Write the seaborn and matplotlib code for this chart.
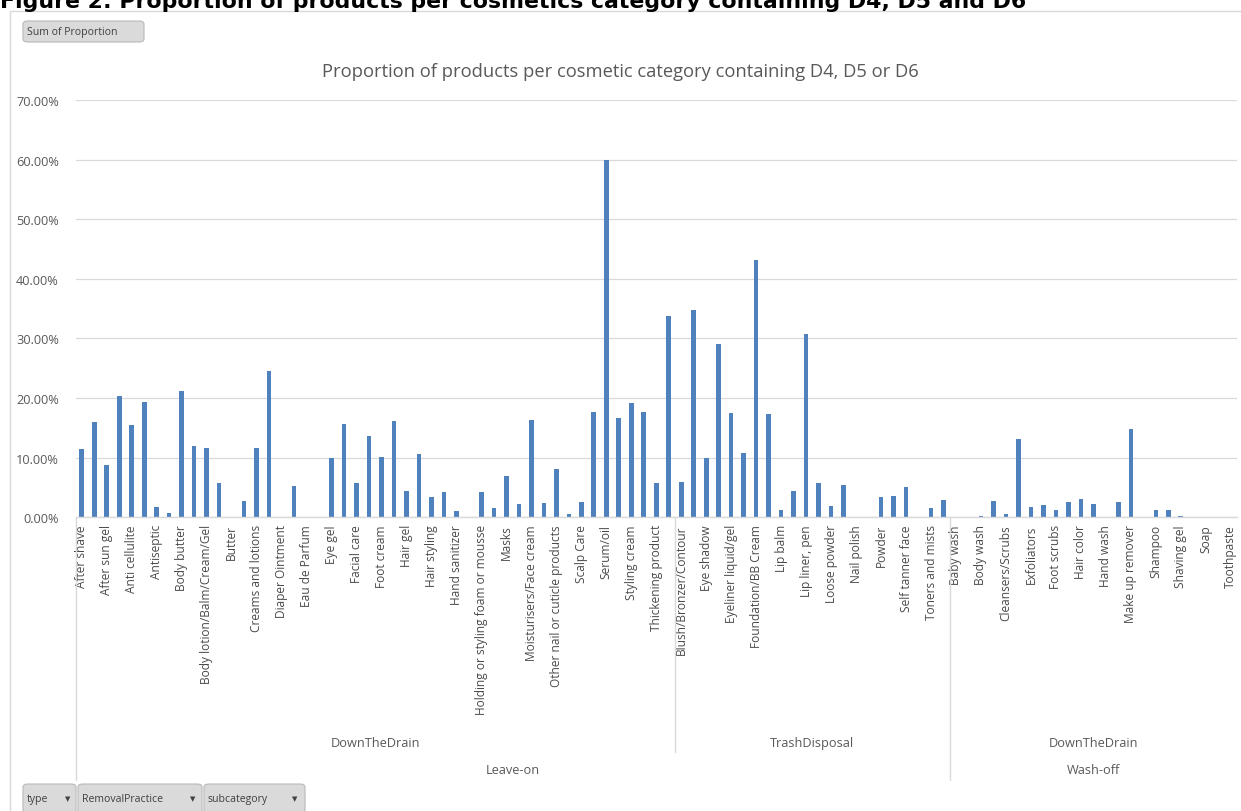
import numpy as np
import pandas as pd
import matplotlib
matplotlib.use("Agg")
import matplotlib.pyplot as plt
import matplotlib.transforms as mtransforms
from matplotlib.patches import FancyBboxPatch, Rectangle
from matplotlib.ticker import FuncFormatter, MultipleLocator
import seaborn as sns

# ---------------- data (proportions in %) ----------------
# Only every second sub-category is labelled on the reference axis ('' = unlabelled category)
leaveon_dtd_labels = [
    "After shave", "", "After sun gel", "", "Anti cellulite", "", "Antiseptic", "",
    "Body butter", "", "Body lotion/Balm/Cream/Gel", "", "Butter", "", "Creams and lotions", "",
    "Diaper Ointment", "", "Eau de Parfum", "", "Eye gel", "", "Facial care", "",
    "Foot cream", "", "Hair gel", "", "Hair styling", "", "Hand sanitizer", "",
    "Holding or styling foam or mousse", "", "Masks", "", "Moisturisers/Face cream", "",
    "Other nail or cuticle products", "", "Scalp Care", "", "Serum/oil", "",
    "Styling cream", "", "Thickening product", "",
]
leaveon_dtd_values = [
    11.4, 16.0, 8.7, 20.4, 15.5, 19.3, 1.7, 0.8,
    21.2, 12.0, 11.6, 5.7, 0.0, 2.8, 11.6, 24.6,
    0.0, 5.3, 0.0, 0.0, 9.9, 15.6, 5.7, 13.7,
    10.1, 16.1, 4.4, 10.6, 3.4, 4.3, 1.0, 0.0,
    4.3, 1.6, 6.9, 2.2, 16.3, 2.4,
    8.1, 0.6, 2.5, 17.6, 60.0, 16.6,
    19.1, 17.6, 5.8, 33.8,
]

leaveon_trash_labels = [
    "Blush/Bronzer/Contour", "", "Eye shadow", "", "Eyeliner liquid/gel", "",
    "Foundation/BB Cream", "", "Lip balm", "", "Lip liner, pen", "", "Loose powder", "",
    "Nail polish", "", "Powder", "", "Self tanner face", "", "Toners and mists", "",
]
leaveon_trash_values = [
    6.0, 34.7, 9.9, 29.0, 17.5, 10.8,
    43.1, 17.3, 1.2, 4.4, 30.8, 5.7, 1.9, 5.5,
    0.0, 0.0, 3.4, 3.6, 5.0, 0.0, 1.6, 2.9,
]

washoff_dtd_labels = [
    "Baby wash", "", "Body wash", "", "Cleansers/Scrubs", "", "Exfoliators", "",
    "Foot scrubs", "", "Hair color", "", "Hand wash", "", "Make up remover", "",
    "Shampoo", "", "Shaving gel", "", "Soap", "", "Toothpaste",
]
washoff_dtd_values = [
    0.0, 0.0, 0.2, 2.7, 0.5, 13.1, 1.7, 2.0,
    1.3, 2.6, 3.1, 2.3, 0.0, 2.6, 14.8, 0.0,
    1.2, 1.3, 0.3, 0.0, 0.0, 0.1, 0.0,
]

types = ["Leave-on", "Leave-on", "Wash-off"]
removal = ["DownTheDrain", "TrashDisposal", "DownTheDrain"]

heading = "Figure 2: Proportion of products per cosmetics category containing D4, D5 and D6"
chart_title = "Proportion of products per cosmetic category containing D4, D5 or D6"

# ---------------- build table ----------------
groups_labels = [leaveon_dtd_labels, leaveon_trash_labels, washoff_dtd_labels]
groups_values = [leaveon_dtd_values, leaveon_trash_values, washoff_dtd_values]
rows = []
pos = 0
for g, (labs, vals) in enumerate(zip(groups_labels, groups_values)):
    for lab, v in zip(labs, vals):
        rows.append({"pos": pos, "label": lab, "value": v / 100.0,
                     "type": types[g], "removal": removal[g]})
        pos += 1
df = pd.DataFrame(rows)
n = len(df)

# ---------------- figure ----------------
W, H = 1241, 812
sns.set_theme(style="white")
plt.rcParams["font.family"] = ["Open Sans", "DejaVu Sans"]

fig = plt.figure(figsize=(W / 100, H / 100), dpi=100)
fig.patch.set_facecolor("white")

ax_left, ax_right, ax_top, ax_bottom = 75.5, 1237, 101, 518.3
ax = fig.add_axes([ax_left / W, 1 - ax_bottom / H, (ax_right - ax_left) / W, (ax_bottom - ax_top) / H])

sns.barplot(data=df, x="pos", y="value", color="#4F81BD", saturation=1,
            width=0.37, linewidth=0, ax=ax, order=list(range(n)))

ax.set_xlim(-0.5, n - 0.5)
ax.set_ylim(0, 0.70)
ax.yaxis.set_major_locator(MultipleLocator(0.10))
ax.yaxis.set_major_formatter(FuncFormatter(lambda v, p: f"{v*100:.2f}%"))
ax.grid(axis="y", color="#d9d9d9", linewidth=0.9)
ax.set_axisbelow(True)
for s in ["top", "right", "left"]:
    ax.spines[s].set_visible(False)
ax.spines["bottom"].set_color("#d9d9d9")
ax.spines["bottom"].set_linewidth(1.0)
ax.set_xlabel("")
ax.set_ylabel("")
ax.tick_params(axis="y", length=0, pad=12, labelsize=9.2, labelcolor="#595959")
ax.set_xticks(range(n))
ax.set_xticklabels(df["label"].tolist(), rotation=90, ha="center", va="top",
                   fontsize=8.6, color="#4a4a4a")
ax.tick_params(axis="x", length=0, pad=5)

# ---------------- multi-level category axis ----------------
trans = mtransforms.blended_transform_factory(ax.transData, fig.transFigure)
def fy(p):
    return 1 - p / H

line_kw = dict(color="#d9d9d9", linewidth=1.0, transform=trans, clip_on=False)
sizes = [len(v) for v in groups_values]
bounds = np.concatenate([[0], np.cumsum(sizes)]) - 0.5
ax.plot([bounds[0], bounds[0]], [fy(ax_bottom), fy(781)], **line_kw)
ax.plot([bounds[1], bounds[1]], [fy(ax_bottom), fy(753)], **line_kw)
ax.plot([bounds[2], bounds[2]], [fy(ax_bottom), fy(781)], **line_kw)

for g in range(3):
    cx = (bounds[g] + bounds[g + 1]) / 2
    ax.text(cx, fy(744), removal[g], transform=trans, ha="center", va="center",
            fontsize=9.2, color="#595959")
type_spans = {}
for g in range(3):
    type_spans.setdefault(types[g], [bounds[g], bounds[g + 1]])
    type_spans[types[g]][1] = bounds[g + 1]
for t, (a, b) in type_spans.items():
    ax.text((a + b) / 2, fy(771), t, transform=trans, ha="center", va="center",
            fontsize=9.2, color="#595959")

# ---------------- titles / frame / buttons ----------------
fig.text(0, fy(8), heading, ha="left", va="baseline", fontsize=15.8,
         fontweight="bold", color="black", family="DejaVu Sans")

frame = Rectangle((10 / W, -0.1), 1.2, fy(11.5) + 0.1, transform=fig.transFigure,
                  fill=False, edgecolor="#d9d9d9", linewidth=1.0)
fig.add_artist(frame)

fig.text(620 / W, fy(77), chart_title, ha="center", va="baseline",
         fontsize=13.2, color="#595959")

def button(x0, x1, y0, y1, text, arrow_x=None):
    b = FancyBboxPatch((x0 / W, fy(y1)), (x1 - x0) / W, (y1 - y0) / H,
                       boxstyle="round,pad=0,rounding_size=0.004",
                       transform=fig.transFigure, facecolor="#dadada",
                       edgecolor="#b8b8b8", linewidth=0.8)
    fig.add_artist(b)
    fig.text((x0 + 4) / W, fy((y0 + y1) / 2), text, ha="left", va="center",
             fontsize=7.6, color="#404040")
    if arrow_x is not None:
        fig.text(arrow_x / W, fy((y0 + y1) / 2 - 1), "\u25BC", ha="center", va="center",
                 fontsize=5, color="#404040", family="DejaVu Sans")

button(23, 144, 22, 43, "Sum of Proportion")
button(23, 76, 785, 815, "type", 68)
button(78, 202, 785, 815, "RemovalPractice", 193)
button(204, 305, 785, 815, "subcategory", 295)

fig.savefig("out.png", dpi=100, facecolor="white")
